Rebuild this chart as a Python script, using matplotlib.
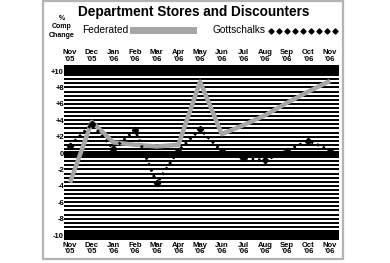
import matplotlib
matplotlib.use("Agg")
import matplotlib.pyplot as plt
import numpy as np
from matplotlib.patches import Rectangle
from matplotlib.lines import Line2D
from matplotlib import font_manager

months = ["Nov\n'05", "Dec\n'05", "Jan\n'06", "Feb\n'06", "Mar\n'06", "Apr\n'06",
          "May\n'06", "Jun\n'06", "Jul\n'06", "Aug\n'06", "Sep\n'06", "Oct\n'06", "Nov\n'06"]
federated = [-3.6, 3.8, 1.3, 1.0, 0.8, 1.0, 8.7, 2.3, 3.4, 4.6, 6.1, 7.5, 8.8]
gottschalks = [0.9, 3.5, 0.5, 2.8, -3.7, 0.3, 2.9, 0.2, -0.6, -0.9, 0.3, 1.5, 0.3]
ytick_vals = [10, 8, 6, 4, 2, 0, -2, -4, -6, -8, -10]
ytick_labels = ["+10", "+8", "+6", "+4", "+2", "0", "-2", "-4", "-6", "-8", "-10"]

names = {f.name for f in font_manager.fontManager.ttflist}
fam = ['Liberation Sans Narrow', 'DejaVu Sans'] if 'Liberation Sans Narrow' in names else ['Liberation Sans', 'DejaVu Sans']
plt.rcParams['font.family'] = fam

W, H = 390, 263
fig = plt.figure(figsize=(W/100, H/100), dpi=100)
fig.patch.set_facecolor('white')

# axes placement (pixels)
left_px, right_px = 64, 339
ymax, ymin = 10.7, -10.55
ppu = 8.2
top_px = 71 - (ymax - 10) * ppu
bot_px = top_px + (ymax - ymin) * ppu
ax = fig.add_axes([left_px/W, (H - bot_px)/H, (right_px-left_px)/W, (bot_px-top_px)/H])
x = np.arange(len(months))
ax.set_xlim(-0.28, 12.41)
ax.set_ylim(ymin, ymax)
for s in ax.spines.values():
    s.set_visible(False)

# stripes
for k in range(-19, 20):
    if k == 0:
        continue
    ax.axhline(k*0.5, color='black', lw=1.4, zorder=1)
ax.axhspan(9.6, ymax, color='black', lw=0, zorder=1)
ax.axhspan(-0.4, 0.3, color='black', lw=0, zorder=1)
ax.axhspan(ymin, -9.45, color='black', lw=0, zorder=1)

ax.plot(x, federated, color='#a6a6a6', lw=3.2, solid_capstyle='butt', zorder=3)
ax.plot(x, gottschalks, color='black', lw=2.0, linestyle=(0, (0.9, 1.4)), zorder=4)
ax.plot(x, gottschalks, color='black', lw=0, marker='D', ms=3.2, zorder=5)

ax.set_xticks(x)
ax.set_xticklabels(months, fontsize=5.5, fontweight='bold', linespacing=0.95)
ax.tick_params(axis='x', length=0, pad=1.5, labeltop=True, labelbottom=True)
ax.set_yticks(ytick_vals)
ax.set_yticklabels(ytick_labels, fontsize=5.5, fontweight='bold')
ax.tick_params(axis='y', length=0, pad=0)

# frame
fig.add_artist(Rectangle((43/W, (H-259)/H), 300/W, 258/H, transform=fig.transFigure,
                         fill=False, edgecolor='#b4b4b4', lw=1.6))

# title and legend
fig.text(194/W, 1 - 12/H, "Department Stores and Discounters", ha='center', va='center',
         fontsize=9.8, fontweight='bold')
fig.text(62/W, 1 - 27/H, "%\nComp\nChange", ha='center', va='center', fontsize=5.0,
         fontweight='bold', linespacing=1.3)
fig.text(82/W, 1 - 30/H, "Federated", ha='left', va='center', fontsize=7.3)
fig.add_artist(Rectangle((130/W, 1 - 34/H), 67/W, 7/H, transform=fig.transFigure,
                         facecolor='#a6a6a6', edgecolor='none'))
fig.text(213/W, 1 - 30/H, "Gottschalks", ha='left', va='center', fontsize=7.3)
lx = np.linspace(271, 335, 9) / W
fig.add_artist(Line2D(lx, [1 - 31/H]*9, transform=fig.transFigure, lw=0,
                      marker='D', ms=2.6, color='black'))

fig.savefig('out.png', dpi=100, facecolor='white')
